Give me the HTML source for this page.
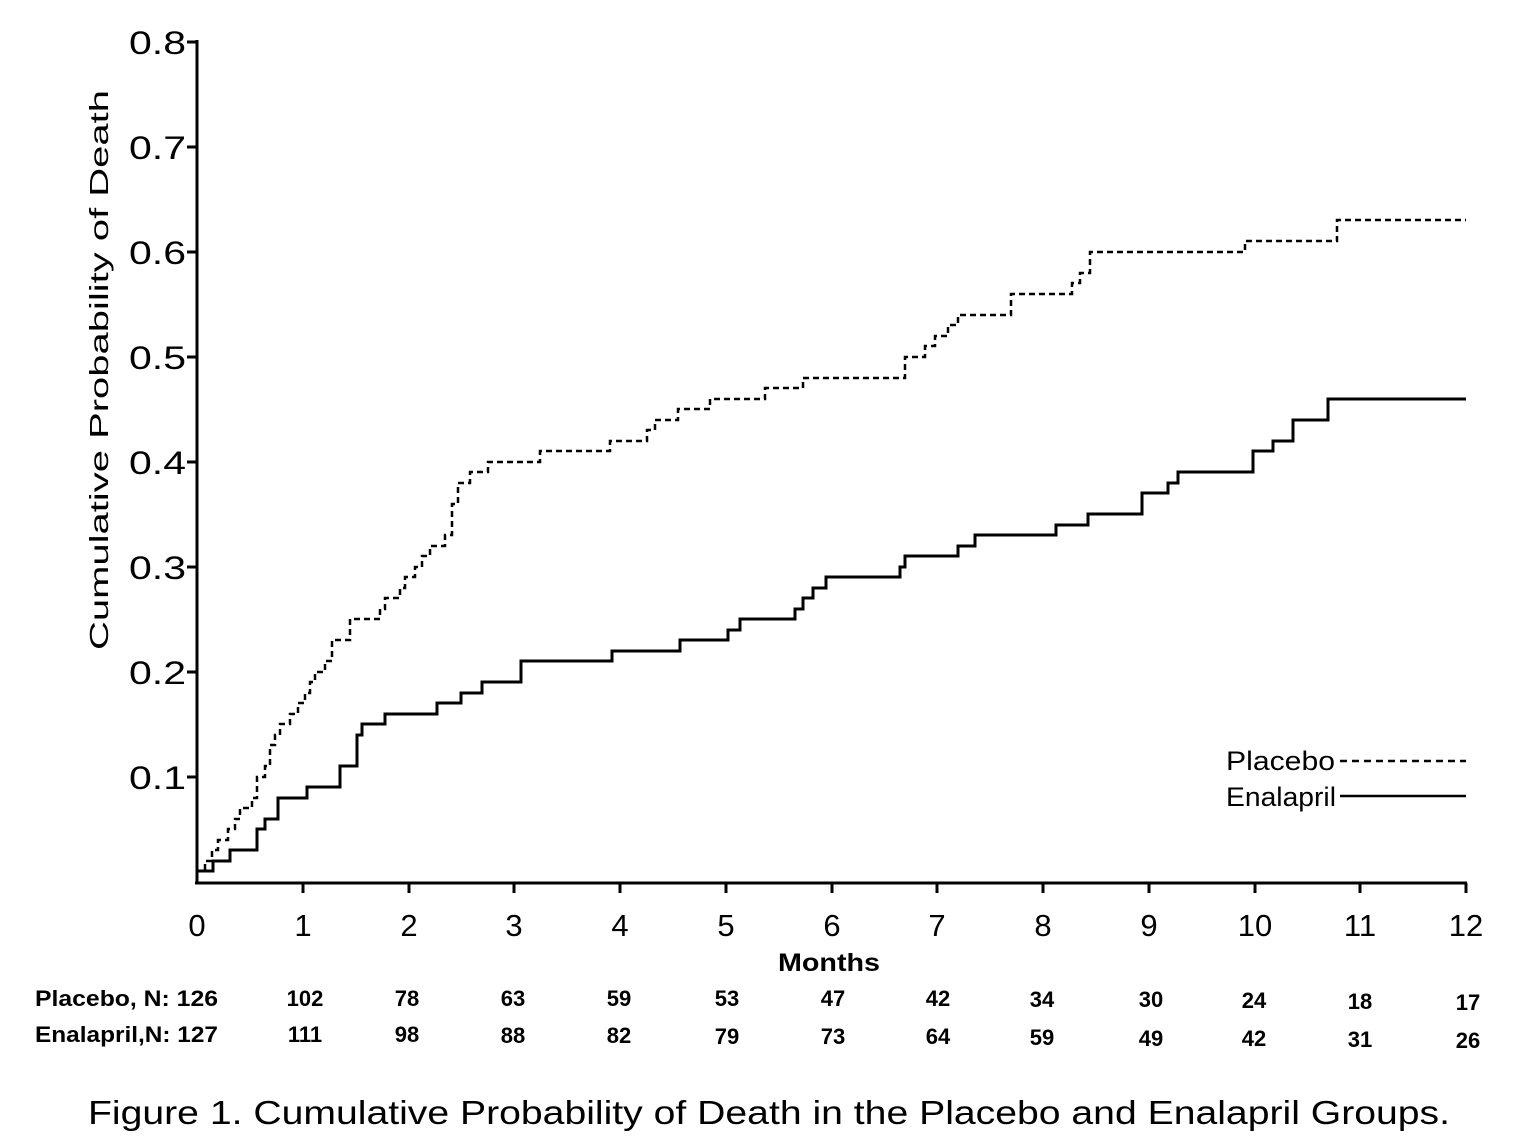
<!DOCTYPE html>
<html><head><meta charset="utf-8"><style>
html,body{margin:0;padding:0;background:#fff;}
svg{display:block;}
text{font-family:"Liberation Sans",sans-serif;fill:#000;}
</style></head><body>
<svg width="1528" height="1138" viewBox="0 0 1528 1138" xmlns="http://www.w3.org/2000/svg">
<g stroke="#000" stroke-width="3" fill="none">
<line x1="197" y1="40" x2="197" y2="884"/>
<line x1="195" y1="883" x2="1467" y2="883"/>
<line x1="187" y1="42" x2="197" y2="42"/>
<line x1="187" y1="147" x2="197" y2="147"/>
<line x1="187" y1="252" x2="197" y2="252"/>
<line x1="187" y1="357" x2="197" y2="357"/>
<line x1="187" y1="462" x2="197" y2="462"/>
<line x1="187" y1="567" x2="197" y2="567"/>
<line x1="187" y1="672" x2="197" y2="672"/>
<line x1="187" y1="777" x2="197" y2="777"/>
<line x1="303" y1="883" x2="303" y2="893"/>
<line x1="409" y1="883" x2="409" y2="893"/>
<line x1="514" y1="883" x2="514" y2="893"/>
<line x1="620" y1="883" x2="620" y2="893"/>
<line x1="726" y1="883" x2="726" y2="893"/>
<line x1="832" y1="883" x2="832" y2="893"/>
<line x1="937" y1="883" x2="937" y2="893"/>
<line x1="1043" y1="883" x2="1043" y2="893"/>
<line x1="1149" y1="883" x2="1149" y2="893"/>
<line x1="1255" y1="883" x2="1255" y2="893"/>
<line x1="1360" y1="883" x2="1360" y2="893"/>
<line x1="1466" y1="883" x2="1466" y2="893"/>
</g>
<path stroke="#000" stroke-width="2.5" fill="none" stroke-dasharray="6,4" d="M197,882 V871 H205 V861 H212 V850 H218 V840 H228 V829 H235 V819 H240 V808 H252 V798 H257 V777 H265 V766 H270 V745 H275 V735 H280 V724 H290 V714 H298 V703 H305 V693 H310 V682 H315 V672 H325 V661 H332 V640 H350 V619 H380 V609 H385 V598 H400 V588 H405 V577 H415 V567 H422 V556 H430 V546 H445 V535 H452 V504 H458 V483 H470 V472 H488 V462 H540 V451 H610 V441 H647 V430 H655 V420 H678 V409 H710 V399 H765 V388 H803 V378 H905 V357 H925 V346 H935 V336 H948 V325 H958 V315 H1011 V294 H1072 V283 H1080 V273 H1090 V252 H1245 V241 H1337 V220 H1466"/>
<path stroke="#000" stroke-width="3" fill="none" d="M197,882 V871 H213 V861 H230 V850 H257 V829 H265 V819 H278 V798 H307 V787 H340 V766 H357 V735 H362 V724 H385 V714 H437 V703 H461 V693 H482 V682 H521 V661 H612 V651 H680 V640 H728 V630 H740 V619 H795 V609 H803 V598 H813 V588 H826 V577 H900 V567 H905 V556 H958 V546 H975 V535 H1056 V525 H1088 V514 H1142 V493 H1168 V483 H1178 V472 H1253 V451 H1273 V441 H1293 V420 H1328 V399 H1466"/>
<g font-size="32" text-anchor="end">
<text x="186" y="54" textLength="57" lengthAdjust="spacingAndGlyphs">0.8</text>
<text x="186" y="159" textLength="57" lengthAdjust="spacingAndGlyphs">0.7</text>
<text x="186" y="264" textLength="57" lengthAdjust="spacingAndGlyphs">0.6</text>
<text x="186" y="369" textLength="57" lengthAdjust="spacingAndGlyphs">0.5</text>
<text x="186" y="474" textLength="57" lengthAdjust="spacingAndGlyphs">0.4</text>
<text x="186" y="579" textLength="57" lengthAdjust="spacingAndGlyphs">0.3</text>
<text x="186" y="684" textLength="57" lengthAdjust="spacingAndGlyphs">0.2</text>
<text x="186" y="789" textLength="57" lengthAdjust="spacingAndGlyphs">0.1</text>
</g>
<g font-size="31" text-anchor="middle">
<text x="197" y="936">0</text><text x="303" y="936">1</text><text x="409" y="936">2</text><text x="514" y="936">3</text><text x="620" y="936">4</text><text x="726" y="936">5</text><text x="832" y="936">6</text><text x="937" y="936">7</text><text x="1043" y="936">8</text><text x="1149" y="936">9</text><text x="1255" y="936">10</text><text x="1360" y="936">11</text><text x="1466" y="936">12</text>
</g>
<text x="778" y="971" font-size="25" font-weight="bold" textLength="102" lengthAdjust="spacingAndGlyphs">Months</text>
<text transform="translate(108,370) rotate(-90)" font-size="26" text-anchor="middle" textLength="560" lengthAdjust="spacingAndGlyphs">Cumulative Probability of Death</text>
<g font-size="22" font-weight="bold" text-anchor="middle">
<text x="35" y="1006" text-anchor="start" textLength="183" lengthAdjust="spacingAndGlyphs">Placebo,  N: 126</text>
<text x="35" y="1042" text-anchor="start" textLength="183" lengthAdjust="spacingAndGlyphs">Enalapril,N: 127</text>
<text x="305" y="1006">102</text><text x="407" y="1006">78</text><text x="513" y="1006">63</text><text x="619" y="1006">59</text><text x="727" y="1006">53</text><text x="833" y="1006">47</text><text x="938" y="1006">42</text><text x="1042" y="1007">34</text><text x="1151" y="1007">30</text><text x="1254" y="1008">24</text><text x="1360" y="1009">18</text><text x="1468" y="1010">17</text>
<text x="305" y="1042">111</text><text x="407" y="1042">98</text><text x="513" y="1043">88</text><text x="619" y="1043">82</text><text x="727" y="1044">79</text><text x="833" y="1044">73</text><text x="938" y="1044">64</text><text x="1042" y="1045">59</text><text x="1151" y="1046">49</text><text x="1254" y="1046">42</text><text x="1360" y="1047">31</text><text x="1468" y="1048">26</text>
</g>
<text x="1226" y="770" font-size="27" textLength="109" lengthAdjust="spacingAndGlyphs">Placebo</text>
<text x="1226" y="806" font-size="27" textLength="110" lengthAdjust="spacingAndGlyphs">Enalapril</text>
<line x1="1340" y1="761" x2="1466" y2="761" stroke="#000" stroke-width="2.5" stroke-dasharray="7,5"/>
<line x1="1340" y1="796" x2="1466" y2="796" stroke="#000" stroke-width="2.5"/>
<text x="88" y="1124" font-size="33" textLength="1362" lengthAdjust="spacingAndGlyphs">Figure 1. Cumulative Probability of Death in the Placebo and Enalapril Groups.</text>
</svg>
</body></html>
